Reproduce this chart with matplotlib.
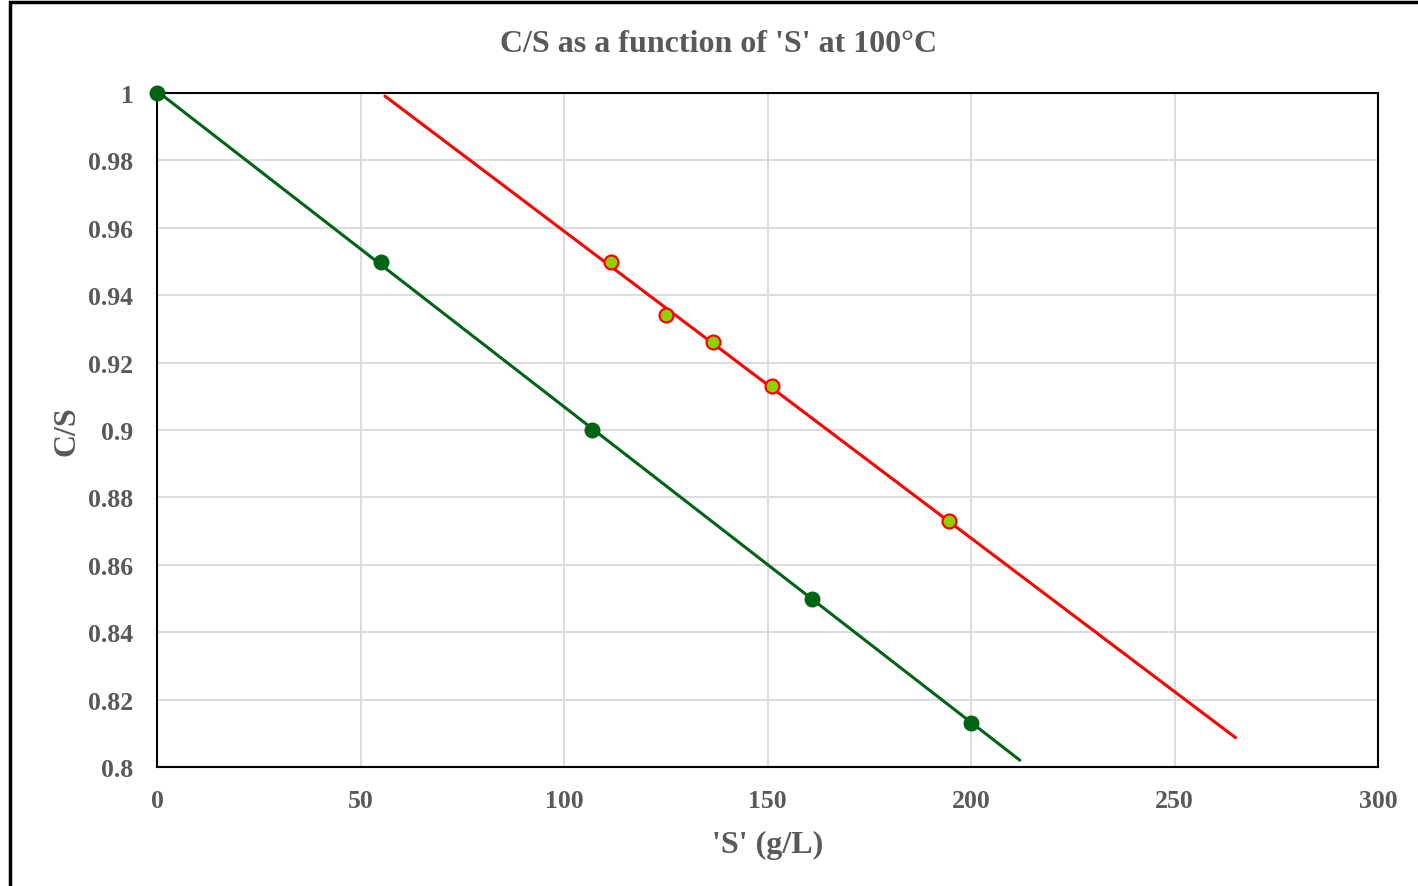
import numpy as np
import matplotlib
matplotlib.use('Agg')
import matplotlib.pyplot as plt
from matplotlib.patches import Rectangle

# data
green_s = [0, 55, 107, 161, 200]
green_cs = [1.0, 0.95, 0.90, 0.85, 0.813]
red_s = [111.5, 125, 136.5, 151, 194.5]
red_cs = [0.95, 0.934, 0.926, 0.913, 0.873]

# x-range covered by each linear trendline
green_trend_range = [0, 212]
red_trend_range = [56, 265]

x_ticks = [0, 50, 100, 150, 200, 250, 300]
y_ticks = [0.8, 0.82, 0.84, 0.86, 0.88, 0.9, 0.92, 0.94, 0.96, 0.98, 1.0]
y_tick_labels = ['0.8', '0.82', '0.84', '0.86', '0.88', '0.9', '0.92', '0.94', '0.96', '0.98', '1']

text_color = '#595959'
plt.rcParams['font.family'] = ['Liberation Serif', 'DejaVu Serif']
plt.rcParams['font.weight'] = 'bold'

fig = plt.figure(figsize=(14.18, 8.87), dpi=100)
fig.patches.append(Rectangle((10 / 1418, -0.1), 1.2, (1 - 3 / 887) + 0.1,
                             transform=fig.transFigure, fill=False,
                             edgecolor='black', linewidth=2.5))
ax = fig.add_axes([157 / 1418, 1 - 768 / 887, (1378 - 157) / 1418, (768 - 94) / 887])


def trendline(xs, ys, xr):
    k, b = np.polyfit(xs, ys, 1)
    xx = np.array(xr, dtype=float)
    return xx, k * xx + b


gx, gy = trendline(green_s, green_cs, green_trend_range)
rx, ry = trendline(red_s, red_cs, red_trend_range)

ax.plot(gx, gy, color='#006414', linewidth=2.2, zorder=3, solid_capstyle='round')
ax.plot(rx, ry, color='#FF0000', linewidth=2.2, zorder=3, solid_capstyle='round')
ax.plot(green_s, green_cs, 'o', color='#006414', markersize=10.5, zorder=4, clip_on=False)
ax.plot(red_s, red_cs, 'o', markerfacecolor='#8FD100', markeredgecolor='#FF0000',
        markeredgewidth=1.6, markersize=10, zorder=4, clip_on=False)

ax.set_xlim(0, 300)
ax.set_ylim(0.8, 1.0)
ax.set_xticks(x_ticks)
ax.set_yticks(y_ticks)
ax.set_yticklabels(y_tick_labels)
ax.tick_params(axis='both', length=0, labelsize=18.5, labelcolor=text_color)
ax.tick_params(axis='x', pad=16)
ax.tick_params(axis='y', pad=17)
ax.grid(True, color='#D9D9D9', linewidth=1.3)
ax.set_axisbelow(True)
for sp in ax.spines.values():
    sp.set_color('black')
    sp.set_linewidth(1.5)

ax.set_xlabel("'S' (g/L)", fontsize=23, color=text_color, fontweight='bold', labelpad=13)
ax.set_ylabel('C/S', fontsize=23, color=text_color, fontweight='bold', labelpad=5)
fig.text(718.5 / 1418, 1 - 44 / 887, "C/S as a function of 'S' at 100°C",
         ha='center', va='center', fontsize=23, color=text_color, fontweight='bold')

fig.savefig('out.png', dpi=100)
